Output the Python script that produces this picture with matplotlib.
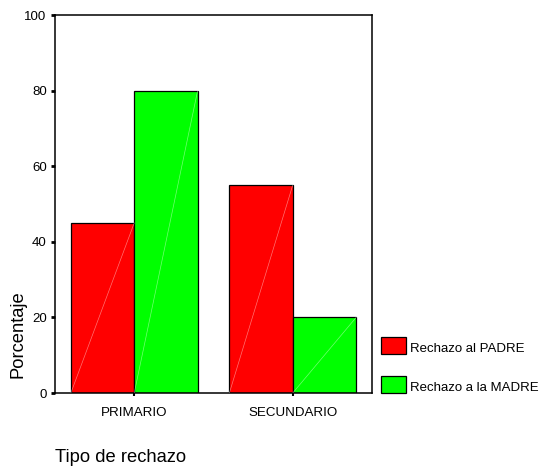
import matplotlib
matplotlib.use("Agg")
import matplotlib.pyplot as plt
import numpy as np

plt.rcParams['font.family'] = ['Liberation Sans', 'DejaVu Sans']

categories = ["PRIMARIO", "SECUNDARIO"]
series_names = ["Rechazo al PADRE", "Rechazo a la MADRE"]
padre = [45, 55]
madre = [80, 20]
colors = ["#ff0000", "#00ff00"]

W, H = 542, 468
fig = plt.figure(figsize=(W / 100, H / 100), dpi=100)
ax = fig.add_axes([55 / W, 1 - 393 / H, (372 - 55) / W, (393 - 15) / H])

x = np.arange(len(categories))
width = 0.4
for offset, vals, col, name in [(-width / 2, padre, colors[0], series_names[0]),
                                (width / 2, madre, colors[1], series_names[1])]:
    bars = ax.bar(x + offset, vals, width, color=col, edgecolor="black",
                  linewidth=0.9, label=name)
    for b in bars:
        x0, w, h = b.get_x(), b.get_width(), b.get_height()
        ax.plot([x0, x0 + w], [0, h], color="white", lw=0.5, alpha=0.45,
                zorder=3)

ax.set_xlim(-0.5, 1.5)
ax.set_ylim(0, 100)
ax.set_yticks([0, 20, 40, 60, 80, 100])
ax.set_xticks(x)
ax.set_xticklabels(categories, fontsize=9.6)
ax.tick_params(axis="y", labelsize=9.5, length=3, width=2, direction="out", pad=3)
ax.tick_params(axis="x", length=2, width=1.5, direction="out", pad=8)
for s in ax.spines.values():
    s.set_linewidth(1.1)

fig.text(18 / W, 1 - 334 / H, "Porcentaje", rotation=90, ha="center",
         va="center", fontsize=13.2)
fig.text(55 / W, 1 - 457 / H, "Tipo de rechazo", ha="left", va="center",
         fontsize=13.2)

# legend drawn as patches beside the plot
for i, (name, col) in enumerate(zip(series_names, colors)):
    ytop = 337 + i * 39
    rect = plt.Rectangle((381 / W, 1 - (ytop + 17) / H), 25 / W, 17 / H,
                         transform=fig.transFigure, facecolor=col,
                         edgecolor="black", linewidth=0.9)
    fig.add_artist(rect)
    fig.text(410 / W, 1 - (ytop + 12) / H, name, ha="left", va="center",
             fontsize=9.5)

fig.savefig("out.png", dpi=100)
